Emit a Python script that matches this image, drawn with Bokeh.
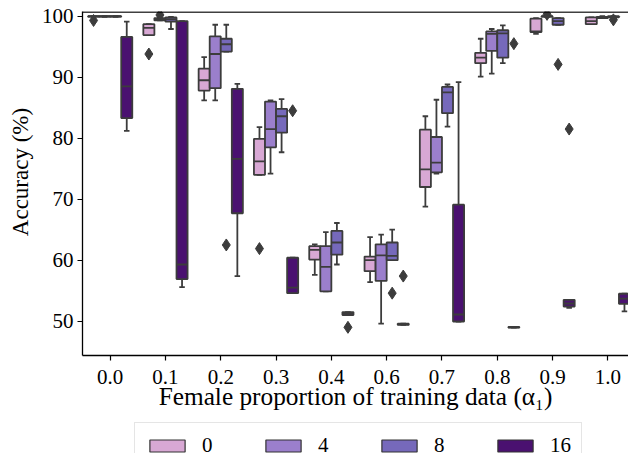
from bokeh.plotting import figure
from bokeh.layouts import column
from bokeh.models import FixedTicker, Legend, LegendItem, Span, Range1d
from bokeh.embed import file_html
from bokeh.resources import INLINE

categories = ["0.0", "0.1", "0.2", "0.3", "0.4", "0.6", "0.7", "0.8", "0.9", "1.0"]
hue_labels = ["0", "4", "8", "16"]
hue_colors = ["#d8a8d4", "#9b7fcc", "#7669bb", "#4a1170"]
y_ticks = [50, 60, 70, 80, 90, 100]

# hue 0
lo_h0  = [99.9, 96.9, 86.2, 74.0, 57.6, 56.4, 68.8, 90.1, 97.1, 98.7]
q1_h0  = [99.9, 96.9, 87.8, 74.0, 60.1, 58.2, 72.0, 92.3, 97.4, 98.7]
med_h0 = [100.0, 98.1, 89.5, 76.2, 61.7, 60.0, 74.9, 93.2, 97.5, 99.2]
q3_h0  = [100.0, 98.7, 91.4, 79.9, 62.3, 60.6, 81.4, 94.0, 99.6, 99.8]
hi_h0  = [100.0, 98.7, 93.3, 81.8, 62.6, 63.8, 83.6, 96.3, 99.7, 99.8]
out_cat_h0 = [0, 1, 3]
out_val_h0 = [99.3, 93.8, 61.9]

# hue 4
lo_h4  = [99.9, 99.3, 86.2, 74.2, 54.9, 49.6, 74.2, 90.6, 99.9, 99.7]
q1_h4  = [99.9, 99.3, 88.2, 78.5, 54.9, 56.6, 74.4, 94.3, 99.9, 99.7]
med_h4 = [100.0, 99.5, 93.8, 81.5, 58.9, 60.8, 76.0, 97.1, 100.0, 99.8]
q3_h4  = [100.0, 99.7, 96.7, 86.0, 62.3, 62.6, 80.2, 97.5, 100.0, 99.9]
hi_h4  = [100.0, 99.8, 98.6, 86.2, 64.6, 64.2, 86.3, 97.9, 100.0, 100.0]
out_cat_h4 = [1, 8]
out_val_h4 = [100.2, 100.3]

# hue 8
lo_h8  = [99.9, 97.9, 94.2, 77.7, 59.3, 60.0, 81.9, 92.3, 98.6, 99.8]
q1_h8  = [99.9, 99.1, 94.2, 80.9, 60.9, 60.0, 84.1, 93.2, 98.6, 99.8]
med_h8 = [100.0, 99.5, 95.4, 83.6, 62.9, 60.7, 87.5, 97.2, 99.2, 99.9]
q3_h8  = [100.0, 99.8, 96.3, 84.8, 64.8, 62.9, 88.4, 97.7, 99.7, 100.0]
hi_h8  = [100.0, 99.9, 98.6, 86.4, 66.1, 65.0, 88.8, 98.5, 99.7, 100.0]
out_cat_h8 = [2, 5, 8, 9]
out_val_h8 = [62.5, 54.6, 92.1, 99.4]

# hue 16
lo_h16  = [81.2, 55.6, 57.4, 54.6, 51.0, 49.4, 49.95, 48.95, 52.2, 51.6]
q1_h16  = [83.3, 56.9, 67.7, 54.6, 51.0, 49.4, 49.95, 48.95, 52.4, 52.85]
med_h16 = [88.5, 59.3, 76.6, 55.5, 51.2, 49.5, 51.1, 49.0, 52.9, 53.7]
q3_h16  = [96.6, 99.2, 88.1, 60.4, 51.5, 49.6, 69.1, 49.05, 53.5, 54.5]
hi_h16  = [99.1, 99.2, 88.9, 60.4, 51.5, 49.6, 89.2, 49.05, 53.5, 54.5]
out_cat_h16 = [3, 4, 5, 7, 8]
out_val_h16 = [84.5, 49.0, 57.4, 95.5, 81.5]

series = [
    (lo_h0, q1_h0, med_h0, q3_h0, hi_h0, out_cat_h0, out_val_h0),
    (lo_h4, q1_h4, med_h4, q3_h4, hi_h4, out_cat_h4, out_val_h4),
    (lo_h8, q1_h8, med_h8, q3_h8, hi_h8, out_cat_h8, out_val_h8),
    (lo_h16, q1_h16, med_h16, q3_h16, hi_h16, out_cat_h16, out_val_h16),
]

EDGE = "#3c3c3c"
SERIF = "Liberation Serif"
BOX_W = 0.2
CAP_HALF = BOX_W / 4
MAIN_H = 417
Y_TOP = 100.77

p = figure(width=628, height=MAIN_H, output_backend="svg", toolbar_location=None,
           x_range=Range1d(-0.5, 9.373), y_range=Range1d(44.38, Y_TOP),
           min_border_left=82, min_border_right=0, min_border_top=11,
           min_border_bottom=MAIN_H - 355)
p.outline_line_color = None
p.xgrid.grid_line_color = None
p.ygrid.grid_line_color = None
p.background_fill_color = "white"
p.border_fill_color = "white"

box_renderers = []
for k, (lo, q1, med, q3, hi, oc, ov) in enumerate(series):
    off = (k - 1.5) * BOX_W
    xs = [i + off for i in range(len(categories))]
    p.segment(x0=xs, y0=q3, x1=xs, y1=hi, line_color=EDGE, line_width=1.8)
    p.segment(x0=xs, y0=q1, x1=xs, y1=lo, line_color=EDGE, line_width=1.8)
    p.segment(x0=[x - CAP_HALF for x in xs], y0=hi, x1=[x + CAP_HALF for x in xs], y1=hi,
              line_color=EDGE, line_width=1.8)
    p.segment(x0=[x - CAP_HALF for x in xs], y0=lo, x1=[x + CAP_HALF for x in xs], y1=lo,
              line_color=EDGE, line_width=1.8)
    r = p.vbar(x=xs, width=BOX_W, top=q3, bottom=q1, fill_color=hue_colors[k],
               line_color=EDGE, line_width=1.8)
    box_renderers.append(r)
    p.segment(x0=[x - BOX_W / 2 for x in xs], y0=med, x1=[x + BOX_W / 2 for x in xs], y1=med,
              line_color=EDGE, line_width=1.8)
    p.scatter(x=[c + off for c in oc], y=ov, marker="diamond", size=12,
              fill_color=EDGE, line_color=EDGE)

p.add_layout(Span(location=Y_TOP - 0.08, dimension="width", line_color="black", line_width=1.3))

# axes
p.xaxis.ticker = FixedTicker(ticks=list(range(len(categories))))
p.xaxis.major_label_overrides = {i: c for i, c in enumerate(categories)}
p.yaxis.ticker = FixedTicker(ticks=y_ticks)
for ax in (p.xaxis[0], p.yaxis[0]):
    ax.axis_line_color = "black"
    ax.axis_line_width = 1.3
    ax.major_tick_line_color = "black"
    ax.major_tick_line_width = 1.2
    ax.major_tick_out = 5
    ax.major_tick_in = 0
    ax.minor_tick_line_color = None
    ax.major_label_text_font = SERIF
    ax.major_label_text_font_size = "21px"
    ax.major_label_text_color = "black"
    ax.axis_label_text_font = SERIF
    ax.axis_label_text_font_style = "normal"
    ax.axis_label_text_color = "black"
p.xaxis.axis_label_text_font_size = "25.3px"
p.yaxis.axis_label_text_font_size = "23px"
p.xaxis.axis_label = "Female proportion of training data (α₁)"
p.yaxis.axis_label = "\u00a0\u00a0\u00a0\u00a0Accuracy (%)"
p.xaxis.major_label_standoff = 9
p.xaxis.axis_label_standoff = -5
p.yaxis.major_label_standoff = 4
p.yaxis.axis_label_standoff = 6

# legend strip below the main plot (its frame clips the legend like the reference crop)
LEG_H = 453 - MAIN_H
pl = figure(width=628, height=LEG_H, output_backend="svg", toolbar_location=None,
            x_range=Range1d(0, 1), y_range=Range1d(0, 1),
            x_axis_location=None, y_axis_location=None,
            min_border_left=0, min_border_right=0, min_border_top=0, min_border_bottom=0)
pl.outline_line_color = None
pl.xgrid.grid_line_color = None
pl.ygrid.grid_line_color = None
pl.background_fill_color = "white"
pl.border_fill_color = "white"

# legend proxies: one bar each, placed below the visible y range
leg_renderers = []
for k in range(4):
    leg_renderers.append(pl.vbar(x=[0.5], top=[-2.0], bottom=[-3.0], width=0.1,
                                 fill_color=hue_colors[k], line_color="#333333", line_width=1.2))

legend = Legend(
    items=[LegendItem(label=hue_labels[k], renderers=[leg_renderers[k]]) for k in range(4)],
    orientation="horizontal", location=(52, -16),
    glyph_width=44, glyph_height=15, label_standoff=13, spacing=39,
    padding=10, margin=0, border_line_color="#cccccc", border_line_width=1,
    label_text_font=SERIF, label_text_font_size="21px", label_text_color="black",
    background_fill_color="white", background_fill_alpha=1.0,
)
pl.add_layout(legend, "center")

open("out.html", "w").write(file_html(column(p, pl, spacing=0), INLINE))
